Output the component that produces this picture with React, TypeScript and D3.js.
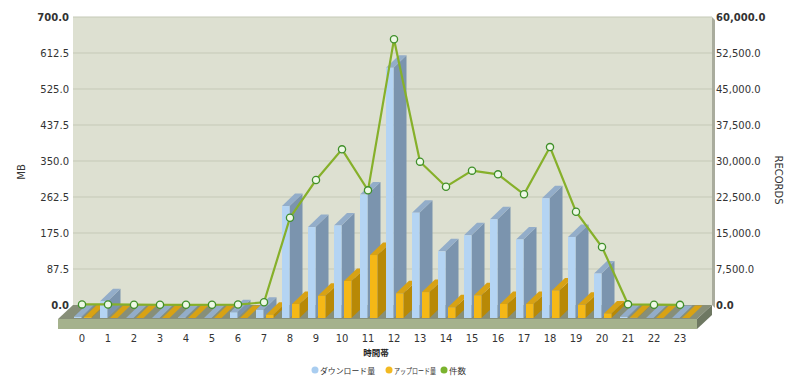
import React from 'react';
import * as d3 from 'd3';

const hours = ['0','1','2','3','4','5','6','7','8','9','10','11','12','13','14','15','16','17','18','19','20','21','22','23'];
const downloadMB = [3, 41, 0, 0, 1, 0, 14, 20, 272, 221, 225, 300, 608, 256, 162, 201, 240, 191, 291, 197, 108, 3, 0, 0];
const uploadMB = [2, 0, 0, 0, 0, 0, 0, 8, 34, 54, 90, 153, 60, 63, 26, 55, 34, 34, 67, 32, 11, 1, 0, 0];
const records = [120, 110, 60, 50, 40, 50, 90, 560, 18190, 26040, 32430, 23890, 55350, 29860, 24650, 27990, 27220, 23060, 32900, 19440, 12080, 140, 60, 30];
const leftTicks = [0, 87.5, 175, 262.5, 350, 437.5, 525, 612.5, 700];
const rightTicks = [0, 7500, 15000, 22500, 30000, 37500, 45000, 52500, 60000];
const seriesNames = ['ダウンロード量', 'アップロード量', '件数'];

const W = 800, H = 383;
const wallL = 73, wallR = 712, wallT = 17, wallB = 305;
const FDX = 15, FDY = 14;
const BDX = 13, BDY = 12.5;
const FONT = '"DejaVu Sans", Verdana, sans-serif';
const CJK = '"Noto Sans CJK JP", sans-serif';

const blueC = { front: '#b4d4f3', side: '#7b94ae', top: '#93adc9' };
const yellowC = { front: '#f5b816', side: '#b88906', top: '#d8a214' };
const lineC = '#86b02a';

export default function App() {
  const yAxisL = d3.scaleLinear().domain([0, 700]).range([wallB, wallT]);
  const yAxisR = d3.scaleLinear().domain([0, 60000]).range([wallB, wallT]);
  const frontBase = wallB + 13;
  const yFront = d3.scaleLinear().domain([0, 700]).range([frontBase, frontBase - (wallB - wallT)]);
  const xBand = d3.scaleBand<string>().domain(hours).range([69, 693]);
  const sub = d3.scaleBand<string>().domain(['dl', 'ul']).range([5, 22.5]).paddingInner(0.25).paddingOuter(0);
  const cx = (h: string) => (xBand(h) as number) + xBand.bandwidth() / 2;

  const bar = (x: number, w: number, v: number, c: typeof blueC, key: string) => {
    const y0 = yFront(0);
    const y1 = yFront(v);
    const side = `${x + w},${y0} ${x + w + BDX},${y0 - BDY} ${x + w + BDX},${y1 - BDY} ${x + w},${y1}`;
    const top = `${x},${y1} ${x + w},${y1} ${x + w + BDX},${y1 - BDY} ${x + BDX},${y1 - BDY}`;
    return (
      <g key={key}>
        {v > 0 && <polygon points={side} fill={c.side} />}
        <polygon points={top} fill={c.top} />
        {v > 0 && <rect x={x} y={y1} width={w} height={y0 - y1} fill={c.front} />}
      </g>
    );
  };

  const line = d3.line<number>().x((_, i) => cx(hours[i])).y(d => yAxisR(d));

  const fl = wallL - FDX, fr = wallR - FDX, ff = wallB + FDY;

  const legend = [
    { x: 315, c: '#a9cdf0', len: 55 },
    { x: 389, c: '#f2b922', len: 42 },
    { x: 444, c: '#7ab32e', len: 17 },
  ];

  return (
    <svg width={W} height={H} style={{ position: 'absolute', left: 0, top: 0, background: '#fff' }}>
      {/* back wall */}
      <rect x={wallL} y={wallT} width={wallR - wallL} height={wallB - wallT} fill="#dde0d1" />
      <polygon points={`${wallR},${wallT} ${wallR + 3},${wallT + 3} ${wallR + 3},${wallB + 3} ${wallR},${wallB}`} fill="#a9ac9d" />
      {leftTicks.slice(1).map(t => (
        <line key={t} x1={wallL} x2={wallR} y1={yAxisL(t)} y2={yAxisL(t)} stroke="#c5c9b7" strokeWidth={1} />
      ))}
      {/* floor */}
      <polygon points={`${wallL},${wallB} ${wallR},${wallB} ${fr},${ff} ${fl},${ff}`} fill="#878f78" />
      <rect x={fl} y={ff} width={fr - fl} height={10} fill="#a5b28d" />
      <polygon points={`${fr},${ff} ${wallR},${wallB} ${wallR},${wallB + 10} ${fr},${ff + 10}`} fill="#6e7862" />
      {/* bars */}
      {hours.map((h, i) => {
        const x0 = xBand(h) as number;
        return (
          <g key={h}>
            {bar(x0 + (sub('dl') as number), sub.bandwidth(), downloadMB[i], blueC, 'd' + h)}
            {bar(x0 + (sub('ul') as number), sub.bandwidth(), uploadMB[i], yellowC, 'u' + h)}
          </g>
        );
      })}
      {/* line */}
      <path d={line(records) as string} fill="none" stroke={lineC} strokeWidth={2.2} />
      {records.map((r, i) => (
        <circle key={i} cx={cx(hours[i])} cy={yAxisR(r)} r={3.6} fill="#eef8e6" stroke="#3f8f2a" strokeWidth={1.3} />
      ))}
      {/* left axis */}
      {leftTicks.map((t, i) => (
        <text key={t} x={69} y={yAxisL(t)} dy="0.35em" textAnchor="end" fontFamily={FONT} fontSize={10}
          fontWeight={i === 0 || i === leftTicks.length - 1 ? 'bold' : 'normal'} fill="#333">{d3.format('.1f')(t)}</text>
      ))}
      {rightTicks.map((t, i) => (
        <text key={t} x={716} y={yAxisR(t)} dy="0.35em" textAnchor="start" fontFamily={FONT} fontSize={10}
          fontWeight={i === 0 || i === rightTicks.length - 1 ? 'bold' : 'normal'} fill="#333">{d3.format(',.1f')(t)}</text>
      ))}
      <text transform="translate(25,172) rotate(-90)" textAnchor="middle" fontFamily={FONT} fontSize={10} fill="#333">MB</text>
      <text transform="translate(775,180) rotate(90)" textAnchor="middle" fontFamily={FONT} fontSize={10} fill="#333">RECORDS</text>
      {/* x labels */}
      {hours.map(h => (
        <text key={h} x={cx(h)} y={338} dy="0.35em" textAnchor="middle" fontFamily={FONT} fontSize={10} fill="#333">{h}</text>
      ))}
      <text x={376} y={353} dy="0.35em" textAnchor="middle" fontFamily={CJK} fontSize={8.5} fontWeight="bold" fill="#222">時間帯</text>
      {/* legend */}
      {legend.map((l, i) => (
        <g key={i}>
          <circle cx={l.x} cy={370} r={3.5} fill={l.c} />
          <text x={l.x + 5} y={371} dy="0.35em" fontFamily={CJK} fontSize={8} fill="#333"
            textLength={l.len} lengthAdjust="spacingAndGlyphs">{seriesNames[i]}</text>
        </g>
      ))}
    </svg>
  );
}
